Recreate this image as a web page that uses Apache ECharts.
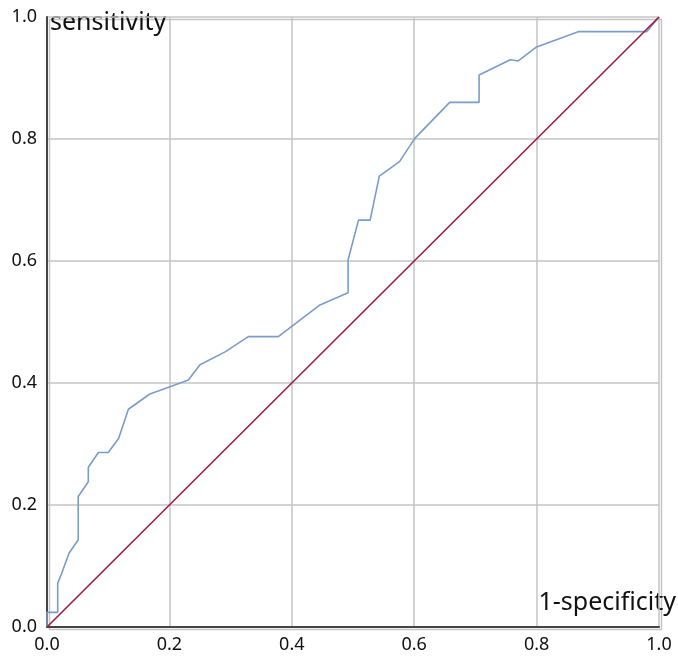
<!DOCTYPE html>
<html>
<head>
<meta charset="utf-8">
<script src="https://cdn.jsdelivr.net/npm/echarts@6/dist/echarts.min.js"></script>
<style>
  html, body { margin: 0; padding: 0; background: #fff; }
  #roc { width: 678px; height: 658px; }
</style>
</head>
<body>
<div id="roc"></div>
<script>
// 1-specificity (x) and sensitivity (y) of the ROC curve
const fpr = [0, 0, 0.0175, 0.0175, 0.024, 0.036, 0.051, 0.051, 0.0675, 0.0675, 0.084, 0.100,
  0.117, 0.133, 0.168, 0.201, 0.231, 0.25, 0.291, 0.329, 0.378, 0.446, 0.492, 0.492, 0.509,
  0.528, 0.543, 0.576, 0.601, 0.658, 0.706, 0.706, 0.757, 0.770, 0.800, 0.868, 0.980, 1];
const tpr = [0, 0.024, 0.024, 0.072, 0.088, 0.121, 0.143, 0.214, 0.238, 0.262, 0.286, 0.286,
  0.309, 0.357, 0.382, 0.394, 0.405, 0.43, 0.451, 0.476, 0.476, 0.528, 0.548, 0.602, 0.667,
  0.667, 0.739, 0.763, 0.801, 0.860, 0.860, 0.905, 0.930, 0.928, 0.951, 0.976, 0.976, 1];
// reference line
const refX = [0, 1];
const refY = [0, 1];
const ticks = [0, 0.2, 0.4, 0.6, 0.8, 1.0];

const chart = echarts.init(document.getElementById('roc'));

const axisCommon = {
  type: 'value',
  min: ticks[0],
  max: ticks[ticks.length - 1],
  interval: 0.2,
  axisLine: { show: true, lineStyle: { color: '#444', width: 2 } },
  axisTick: { show: false },
  splitLine: { show: true, lineStyle: { color: '#c4c4c4', width: 1.5 } },
  axisLabel: {
    color: '#111',
    fontSize: 18,
    fontFamily: 'Noto Sans',
    formatter: v => v.toFixed(1)
  }
};

const option = {
  animation: false,
  backgroundColor: '#fff',
  grid: { left: 47, right: 19, top: 17, bottom: 31 },
  xAxis: Object.assign({}, axisCommon, {
    axisLabel: Object.assign({}, axisCommon.axisLabel, { margin: 9 })
  }),
  yAxis: Object.assign({}, axisCommon, {
    axisLabel: Object.assign({}, axisCommon.axisLabel, { margin: 10 })
  }),
  graphic: [
    {
      type: 'rect', left: 47, top: 17, silent: true,
      shape: { width: 612, height: 610 },
      style: { fill: 'none', stroke: '#c4c4c4', lineWidth: 1.5 }, z: -1
    },
    {
      type: 'text', left: 50, top: 10,
      style: { text: 'sensitivity', fontSize: 25, fontFamily: 'Noto Sans', fill: '#111' }
    },
    {
      type: 'text', right: 2, top: 590,
      style: { text: '1-specificity', fontSize: 25, fontFamily: 'Noto Sans', fill: '#111' }
    }
  ],
  series: [
    {
      type: 'line',
      data: refX.map((x, i) => [x, refY[i]]),
      symbol: 'none',
      lineStyle: { color: '#9c1c46', width: 1.6 },
      z: 3
    },
    {
      type: 'line',
      data: fpr.map((x, i) => [x, tpr[i]]),
      symbol: 'none',
      lineStyle: { color: '#7a9ccb', width: 1.6 },
      z: 2
    }
  ]
};

chart.setOption(option);
</script>
</body>
</html>
